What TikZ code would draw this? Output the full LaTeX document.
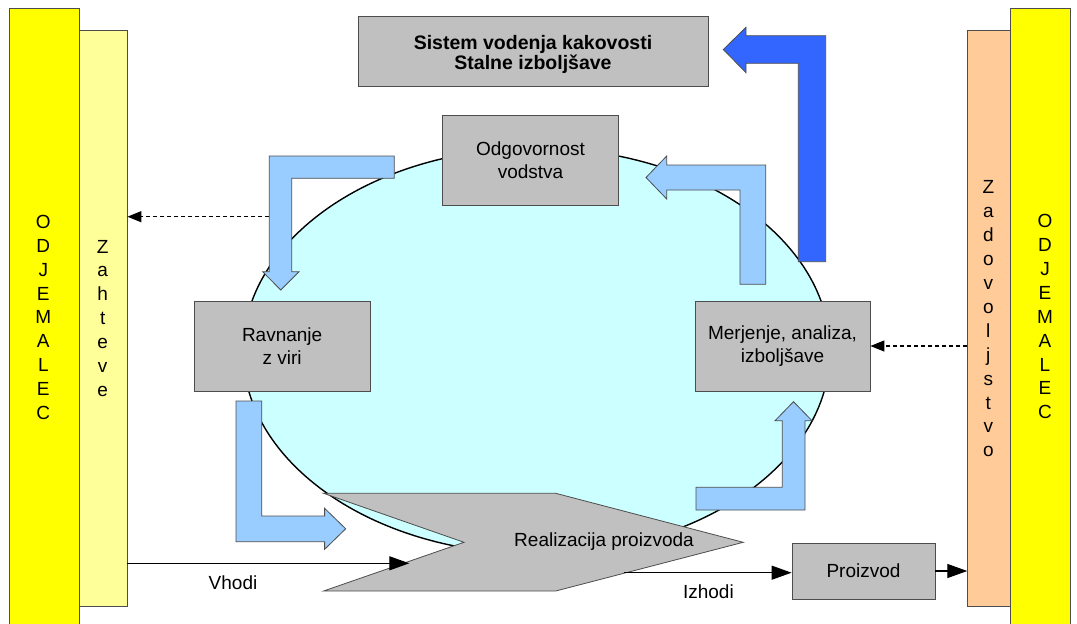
\documentclass[tikz,border=0pt]{standalone}
\usepackage{fontspec}
\setmainfont{Liberation Sans}
\usetikzlibrary{arrows.meta}

\definecolor{custYellow}{HTML}{FFFF00}
\definecolor{reqYellow}{HTML}{FFFF99}
\definecolor{satOrange}{HTML}{FFCC99}
\definecolor{loopCyan}{HTML}{CCFFFF}
\definecolor{boxGray}{HTML}{C0C0C0}
\definecolor{flowBlue}{HTML}{99CCFF}
\definecolor{impBlue}{HTML}{3366FF}
\definecolor{edgeGray}{HTML}{4D4D4D}

\tikzset{
  bar/.style={draw=edgeGray, line width=0.8pt, inner sep=0pt},
  vtext/.style={align=center, inner sep=0pt, font=\fontsize{19}{23.9}\selectfont},
  gbox/.style={draw=edgeGray, fill=boxGray, line width=0.8pt, inner sep=0pt, align=center},
  flowarrow/.style={draw=edgeGray, fill=flowBlue, line width=0.8pt, line join=miter},
  bigarrow/.style={draw=edgeGray, fill=impBlue, line width=0.8pt, line join=miter},
  link/.style={line width=1.3pt, -{Triangle[length=20pt,width=14pt]}},
  dlink/.style={line width=1.2pt, dash pattern=on 4pt off 3pt, -{Triangle[length=14pt,width=11pt]}}
}

\begin{document}
\begin{tikzpicture}[x=1pt, y=-1pt, font=\fontsize{19}{22.5}\selectfont]
  \useasboundingbox (0,0) rectangle (1077,624);
  \fill[white] (0,0) rectangle (1077,624);

  % customer columns and the requirement / satisfaction strips
  \node[bar, fill=custYellow, minimum width=70pt, minimum height=630pt] (custL) at (44,323) {};
  \node[bar, fill=reqYellow, minimum width=48pt, minimum height=575.3pt] (zahteve) at (103,318.35) {};
  \node[bar, fill=custYellow, minimum width=60pt, minimum height=630pt] (custR) at (1040,323) {};
  \node[bar, fill=satOrange, minimum width=42.3pt, minimum height=575.3pt] (zadov) at (988.85,318.35) {};

  \node[vtext] (custLtxt) at (43.3,317.4) {O\\D\\J\\E\\M\\A\\L\\E\\C};
  \node[vtext] (zahtevetxt) at (102.7,318.3) {Z\\a\\h\\t\\e\\v\\e};
  \node[vtext] (zadovtxt) at (988.3,319) {Z\\a\\d\\o\\v\\o\\l\\j\\s\\t\\v\\o};
  \node[vtext] (custRtxt) at (1045,316.7) {O\\D\\J\\E\\M\\A\\L\\E\\C};

  % process loop
  \draw[fill=loopCyan, line width=1.4pt] (536.5,351) ellipse [x radius=293.5, y radius=203];

  % product realisation chevron
  \draw[draw=edgeGray, fill=boxGray, line width=0.8pt, line join=miter]
    (323.6,493.3) -- (555.7,493.3) -- (743.2,542.3) -- (555.7,591) -- (323.6,591) -- (464,542.3) -- cycle;
  \node (real) at (604,542) {Realizacija proizvoda};

  % process boxes
  \node[gbox, minimum width=350pt, minimum height=70pt] (title) at (533,51) {};
  \node[align=center, inner sep=0pt, font=\bfseries\fontsize{19.5}{20}\selectfont]
    (titletxt) at (533,54) {Sistem vodenja kakovosti\\Stalne izboljšave};
  \node[gbox, minimum width=175.6pt, minimum height=90pt] (odg) at (530.5,160) {Odgovornost\\vodstva};
  \node[gbox, minimum width=175.7pt, minimum height=90pt] (rav) at (282.15,346) {Ravnanje\\z viri};
  \node[gbox, minimum width=175pt, minimum height=90pt] (merj) at (782.5,346) {Merjenje, analiza,\\izboljšave};
  \node[gbox, minimum width=143pt, minimum height=56pt] (prod) at (863.5,571) {Proizvod};

  % cycle arrows
  \draw[flowarrow] (394.3,156) -- (269.3,156) -- (269.3,271.7) -- (262.7,271.7) -- (280.7,290)
    -- (299,271.7) -- (291.7,271.7) -- (291.7,178.3) -- (394.3,178.3) -- cycle;
  \draw[flowarrow] (236,401) -- (261.8,401) -- (261.8,516) -- (324.6,516) -- (324.6,508.3)
    -- (345.7,528.8) -- (324.6,549.3) -- (324.6,541.7) -- (236,541.7) -- cycle;
  \draw[flowarrow] (696,487.3) -- (782.3,487.3) -- (782.3,420.7) -- (775,420.7) -- (793.5,401.7)
    -- (812,420.7) -- (805,420.7) -- (805,510) -- (696,510) -- cycle;
  \draw[flowarrow] (765.7,284.3) -- (765.7,165) -- (666.7,165) -- (666.7,156) -- (646,177.5)
    -- (666.7,199) -- (666.7,190) -- (740,190) -- (740,284.3) -- cycle;
  \draw[bigarrow] (825.7,261.7) -- (825.7,35.7) -- (746,35.7) -- (746,27.3) -- (723.3,49.5)
    -- (746,72.7) -- (746,63.3) -- (798.3,63.3) -- (798.3,261.7) -- cycle;

  % feedback and flow connectors
  \coordinate (reqFrom) at (269.3,216.7);
  \draw[dlink] (reqFrom) -- (reqFrom -| zahteve.east);
  \draw[dlink] (zadov.west |- merj.east) -- (merj.east);

  \coordinate (inTip) at (409.3,563.3);
  \draw[link] (inTip -| zahteve.east) -- (inTip);
  \coordinate (outFrom) at (623.6,572.7);
  \draw[link] (outFrom) -- (outFrom -| prod.west);
  \draw[link] (prod.east) -- (prod.east -| zadov.west);

  \node (vhodi) at (233,583) {Vhodi};
  \node (izhodi) at (708.4,591.7) {Izhodi};
\end{tikzpicture}
\end{document}
